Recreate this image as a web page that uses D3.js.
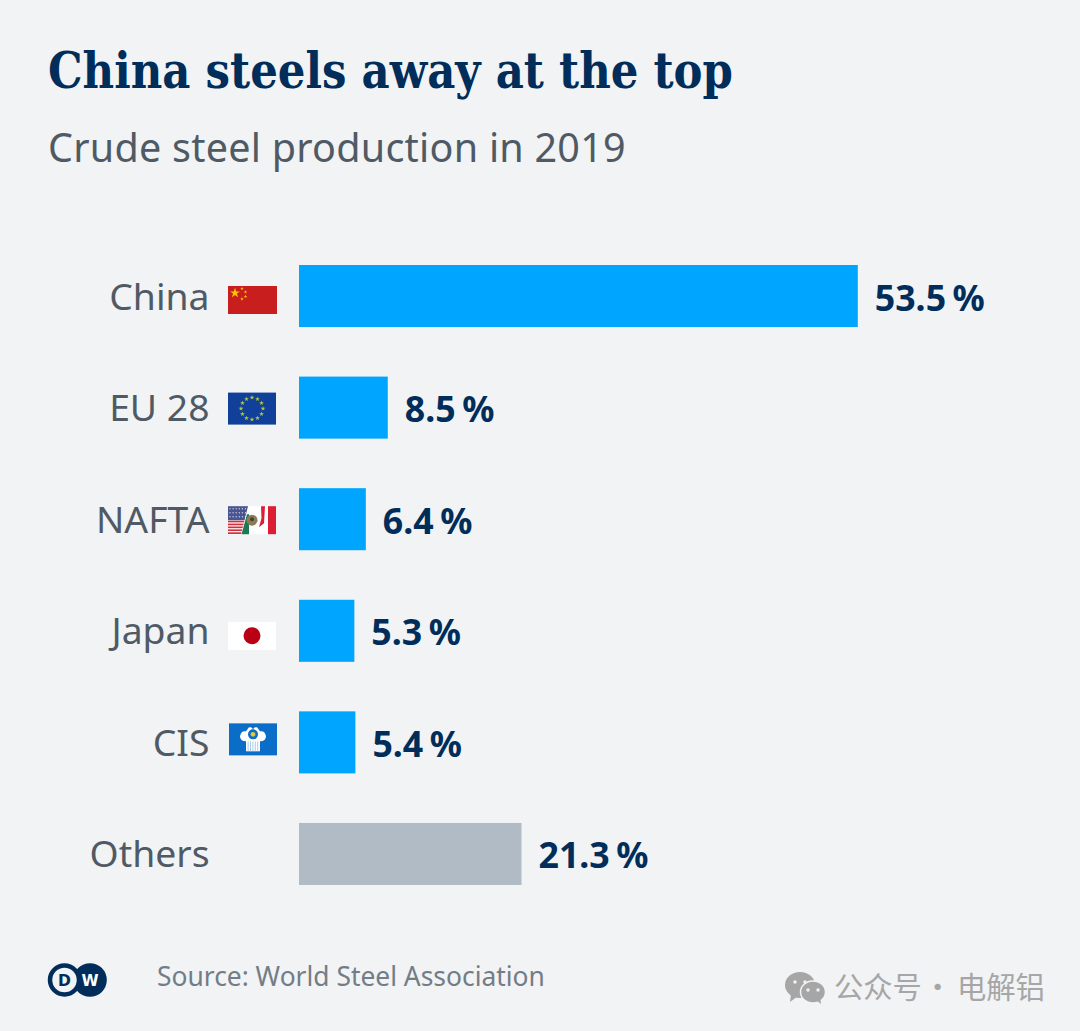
<!DOCTYPE html>
<html lang="en">
<head>
    <meta charset="UTF-8">
    <title>China steels away at the top</title>
    <style>
        html, body { margin: 0; padding: 0; background: #f1f3f5; }
        svg { display: block; }
        text { font-family: "Noto Sans", sans-serif; }
    </style>
    <script src="https://d3js.org/d3.v7.min.js"></script>
</head>
<body>
    <div id="svg"></div>
    <script>
        const categories = ["China", "EU 28", "NAFTA", "Japan", "CIS", "Others"]
        const shares = [53.5, 8.5, 6.4, 5.3, 5.4, 21.3]
        const shareLabels = ["53.5", "8.5", "6.4", "5.3", "5.4", "21.3"]
        const flagged = ["China", "EU 28", "NAFTA", "Japan", "CIS"]

        const boxWidth = 1080, boxHeight = 1031
        const bg = "#f1f3f5", blue = "#00a5ff", grey = "#b0bbc5", navy = "#002d5a", slate = "#4f5a64"

        const svg = d3.select("#svg").append("svg").attr("width", boxWidth).attr("height", boxHeight)
        svg.append("rect").attr("width", boxWidth).attr("height", boxHeight).attr("fill", bg)

        svg.append("text").attr("x", 48).attr("y", 88)
            .attr("fill", navy).attr("font-size", 49.5).attr("font-weight", 700)
            .style("font-family", "'DejaVu Serif', serif")
            .attr("textLength", 685).attr("lengthAdjust", "spacingAndGlyphs")
            .text("China steels away at the top")
        svg.append("text").attr("x", 48).attr("y", 162)
            .attr("fill", slate).attr("font-size", 39.5).attr("letter-spacing", 0.25)
            .text("Crude steel production in 2019")

        const xScale = d3.scaleLinear().domain([0, 53.5]).range([299, 857.8])
        const yScale = d3.scaleBand().domain(categories).range([265, 885]).paddingInner(0.444)

        const rows = svg.selectAll(".row").data(categories).enter().append("g")
            .attr("class", "row")
            .attr("transform", d => `translate(0, ${yScale(d)})`)

        rows.append("rect")
            .attr("x", xScale(0))
            .attr("width", (d, i) => xScale(shares[i]) - xScale(0))
            .attr("height", yScale.bandwidth())
            .attr("fill", d => d === "Others" ? grey : blue)

        rows.append("text")
            .attr("x", 209.5).attr("y", 44.5)
            .attr("text-anchor", "end")
            .attr("fill", slate).attr("font-size", 37.3)
            .text(d => d)

        const values = rows.append("text")
            .attr("x", (d, i) => xScale(shares[i]) + 17)
            .attr("y", 45.5)
            .attr("fill", navy).attr("font-size", 35.7).attr("font-weight", 700)
        values.append("tspan").text((d, i) => shareLabels[i])
        values.append("tspan").attr("dx", 6.5).text("%")

        // flags, each placed by hand next to its label
        const flagTop = { "China": 21, "EU 28": 16, "NAFTA": 18, "Japan": 22, "CIS": 12 }
        const flags = rows.filter(d => flagged.includes(d)).append("g")
            .attr("transform", d => `translate(${d === "CIS" ? 229 : 228}, ${flagTop[d]})`)

        const star = (g, x, y, size, color) => g.append("path")
            .attr("d", d3.symbol(d3.symbolStar, size))
            .attr("transform", `translate(${x}, ${y})`)
            .attr("fill", color)

        const china = flags.filter(d => d === "China")
        china.append("rect").attr("width", 49).attr("height", 28).attr("fill", "#c81e1e")
        star(china, 7, 7, 30, "#ffc800")
        ;[[14, 2.5], [17.5, 6], [17.5, 10.5], [14, 13]].forEach(p => star(china, p[0], p[1], 4, "#ffc800"))

        const eu = flags.filter(d => d === "EU 28")
        eu.append("rect").attr("width", 48).attr("height", 32).attr("fill", "#10409a")
        d3.range(12).forEach(i => {
            const a = i * Math.PI / 6
            star(eu, 24 + 11 * Math.cos(a), 16 + 11 * Math.sin(a), 7, "#b4c83c")
        })

        const nafta = flags.filter(d => d === "NAFTA")
        nafta.append("rect").attr("width", 48).attr("height", 28).attr("fill", "#fff")
        d3.range(5).forEach(i => nafta.append("rect").attr("y", 14.5 + i * 2.9).attr("width", 17).attr("height", 1.7).attr("fill", "#d0303c"))
        nafta.append("rect").attr("width", 20).attr("height", 14).attr("fill", "#4a5590")
        d3.range(3).forEach(r => d3.range(6).forEach(c =>
            nafta.append("circle").attr("cx", 2 + c * 3.1).attr("cy", 2.5 + r * 4).attr("r", 0.7).attr("fill", "#c8cce4")))
        nafta.append("path").attr("d", "M20 0 L29 0 L29 28 L13 28 Z").attr("fill", "#fff")
        nafta.append("path").attr("d", "M19 8 L21 8 L21 28 L13.5 28 Z").attr("fill", "#1e7850")
        nafta.append("circle").attr("cx", 24).attr("cy", 14).attr("r", 5.5).attr("fill", "#8c7a58")
        nafta.append("circle").attr("cx", 24).attr("cy", 13).attr("r", 2).attr("fill", "#3a4a30")
        nafta.append("rect").attr("x", 40).attr("width", 8).attr("height", 28).attr("fill", "#dc1e32")
        nafta.append("path").attr("d", "M33 0 L37 0 L36 17 L31 21 L33.5 12 Z").attr("fill", "#dc1e32")

        const japan = flags.filter(d => d === "Japan")
        japan.append("rect").attr("width", 48).attr("height", 28).attr("fill", "#fff")
        japan.append("circle").attr("cx", 24).attr("cy", 14).attr("r", 8.5).attr("fill", "#b90014")

        const cis = flags.filter(d => d === "CIS")
        cis.append("rect").attr("width", 48).attr("height", 32).attr("fill", "#0a6ec8")
        cis.append("path").attr("d", "M11 13 Q12 7 17 8 L20 4 Q24 3 24 8 Q24 3 28 4 L31 8 Q36 7 37 13 Q37 18 31 18 L31 28 L17 28 L17 18 Q11 18 11 13 Z").attr("fill", "#fff")
        d3.range(5).forEach(i => cis.append("rect").attr("x", 18.6 + i * 2.4).attr("y", 18).attr("width", 1).attr("height", 10).attr("fill", "#a8cce8"))
        cis.append("circle").attr("cx", 24).attr("cy", 11).attr("r", 5).attr("fill", "#0a6ec8")
        cis.append("circle").attr("cx", 24).attr("cy", 11).attr("r", 2.4).attr("fill", "#dcc83c")

        // DW logo
        const logo = svg.append("g")
        logo.append("circle").attr("cx", 90).attr("cy", 980).attr("r", 16.8).attr("fill", navy)
        logo.append("circle").attr("cx", 64.5).attr("cy", 980).attr("r", 14.5).attr("fill", bg).attr("stroke", navy).attr("stroke-width", 4.5)
        logo.append("text").attr("x", 64.5).attr("y", 985.5).attr("text-anchor", "middle")
            .attr("fill", navy).attr("font-size", 15.5).attr("font-weight", 700)
            .style("font-family", "'DejaVu Sans'").text("D")
        logo.append("text").attr("x", 90).attr("y", 985.5).attr("text-anchor", "middle")
            .attr("fill", "#fff").attr("font-size", 15.5).attr("font-weight", 700)
            .style("font-family", "'DejaVu Sans'").text("W")

        svg.append("text").attr("x", 157).attr("y", 986)
            .attr("fill", "#737d87").attr("font-size", 26.4)
            .text("Source: World Steel Association")

        // WeChat watermark
        const wm = svg.append("g").attr("fill", "#a6a6a6")
        wm.append("ellipse").attr("cx", 800).attr("cy", 985).attr("rx", 15).attr("ry", 13)
        wm.append("ellipse").attr("cx", 813).attr("cy", 992).attr("rx", 12.5).attr("ry", 11)
            .attr("stroke", bg).attr("stroke-width", 1.5)
        wm.append("path").attr("d", "M791 994 L790 1002 L798 996 Z")
        wm.append("path").attr("d", "M816 1000 L821 1004 L820 996 Z")
        ;[[795, 982], [805, 982], [808, 990], [818, 990]].forEach(p =>
            wm.append("circle").attr("cx", p[0]).attr("cy", p[1]).attr("r", 1.7).attr("fill", bg))
        ;[[834, "公众号"], [923, "·"], [957, "电解铝"]].forEach(p =>
            svg.append("text").attr("x", p[0]).attr("y", 998)
                .attr("fill", "#a6a6a6").attr("font-size", 29.3)
                .style("font-family", "'Noto Sans CJK SC'")
                .text(p[1]))
    </script>
</body>
</html>
